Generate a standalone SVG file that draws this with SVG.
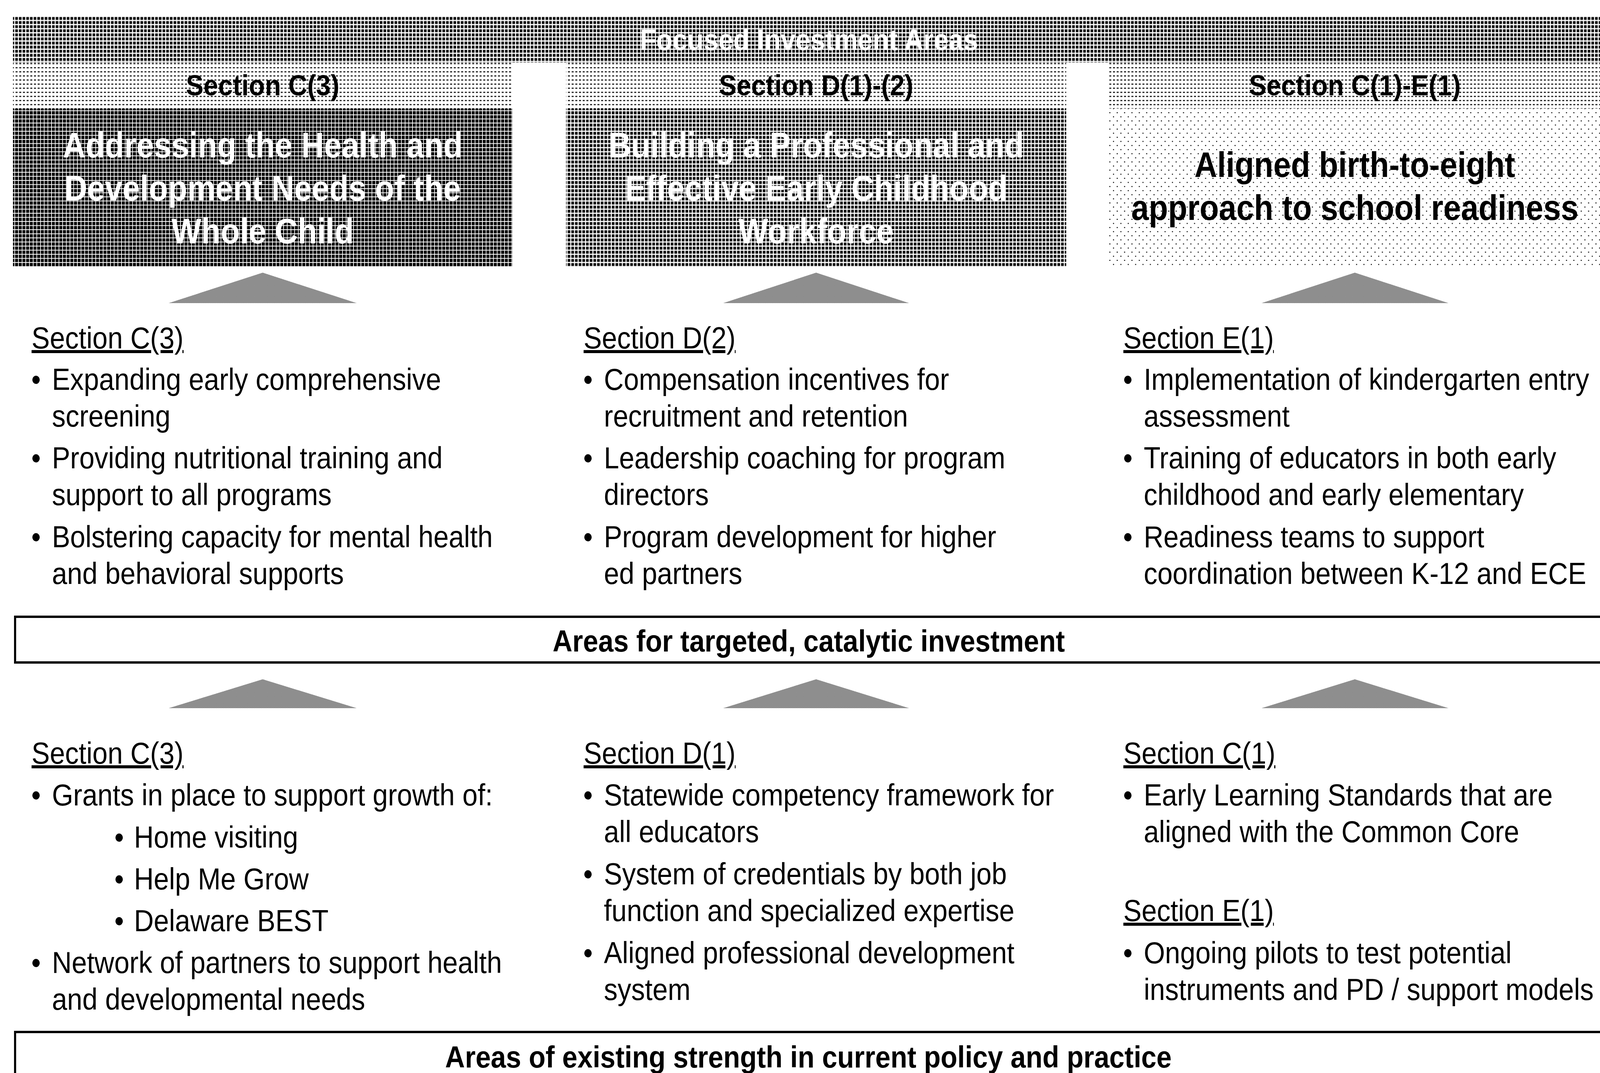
<svg xmlns="http://www.w3.org/2000/svg" width="4562" height="2747" viewBox="0 0 4562 2747" preserveAspectRatio="none">
<style>
svg{width:100vw;height:100vh}
text{font-family:"Liberation Sans",Arial,sans-serif;fill:#000}
.hdr{font-size:75px;font-weight:bold;text-anchor:middle}
.pan{font-size:90px;font-weight:bold;text-anchor:middle}
.wt{fill:#fff}
.bt{font-size:78px}
.sec{font-size:78px;text-decoration:underline}
.box{font-size:78px;font-weight:bold;text-anchor:middle}
.frame{fill:#fff;stroke:#000;stroke-width:6}
.tri{fill:url(#pTri)}
</style>
<defs>
<pattern id="pTop" width="10.5" height="10.5" patternUnits="userSpaceOnUse"><rect width="10.5" height="10.5" fill="#fff"/><rect x="1.5" y="1.5" width="7.4" height="7.4" fill="#000"/></pattern>
<pattern id="pDark" width="10.5" height="10.5" patternUnits="userSpaceOnUse"><rect width="10.5" height="10.5" fill="#fff"/><rect x="1" y="1" width="8.5" height="8.5" fill="#000"/></pattern>
<pattern id="pMid" width="10.5" height="10.5" patternUnits="userSpaceOnUse"><rect width="10.5" height="10.5" fill="#fff"/><rect x="1.5" y="1.5" width="7.5" height="7.5" fill="#000"/></pattern>
<pattern id="pBand" width="10.5" height="10.5" patternUnits="userSpaceOnUse"><rect width="10.5" height="10.5" fill="#fff"/><rect x="2.5" y="4" width="5.5" height="2.8" fill="#000"/></pattern>
<pattern id="pDots" width="21" height="21" patternUnits="userSpaceOnUse"><rect width="21" height="21" fill="#fff"/><circle cx="4" cy="5" r="1.6" fill="#000"/><circle cx="14.5" cy="15.5" r="1.6" fill="#000"/></pattern>
<pattern id="pTri" width="4" height="4" patternUnits="userSpaceOnUse"><rect width="4" height="4" fill="#acacac"/><rect x="0" y="0" width="2" height="2" fill="#707070"/><rect x="2" y="2" width="2" height="2" fill="#707070"/></pattern>
</defs>
<rect width="4562" height="2747" fill="#fff"/>

<g id="top-bar">
<rect x="37" y="42" width="4525" height="118" fill="url(#pTop)"/>
<text class="hdr wt" x="2307" y="128" style="font-size:76px">Focused Investment Areas</text>
</g>

<g id="focus-c3">
<rect x="37" y="160" width="1424" height="118" fill="url(#pBand)"/>
<text class="hdr" x="749" y="244">Section C(3)</text>
<rect x="37" y="278" width="1424" height="404" fill="url(#pDark)"/>
<text class="pan wt" x="749" y="403">Addressing the Health and</text>
<text class="pan wt" x="749" y="513">Development Needs of the</text>
<text class="pan wt" x="749" y="623">Whole Child</text>
</g>

<g id="focus-d12">
<rect x="1614" y="160" width="1426" height="118" fill="url(#pBand)"/>
<text class="hdr" x="2327" y="244">Section D(1)-(2)</text>
<rect x="1614" y="278" width="1426" height="404" fill="url(#pMid)"/>
<text class="pan wt" x="2327" y="403">Building a Professional and</text>
<text class="pan wt" x="2327" y="513">Effective Early Childhood</text>
<text class="pan wt" x="2327" y="623">Workforce</text>
</g>

<g id="focus-c1e1">
<rect x="3161" y="160" width="1401" height="118" fill="url(#pBand)"/>
<text class="hdr" x="3863" y="244">Section C(1)-E(1)</text>
<rect x="3161" y="278" width="1401" height="404" fill="url(#pDots)"/>
<text class="pan" x="3863" y="453">Aligned birth-to-eight</text>
<text class="pan" x="3863" y="563">approach to school readiness</text>
</g>

<g id="connectors">
<polygon class="tri" points="749,698 1017,776 481,776"/>
<polygon class="tri" points="2327,698 2592,776 2062,776"/>
<polygon class="tri" points="3863,698 4130,776 3597,776"/>
<polygon class="tri" points="749,1739 1017,1813 481,1813"/>
<polygon class="tri" points="2327,1739 2592,1813 2062,1813"/>
<polygon class="tri" points="3863,1739 4130,1813 3597,1813"/>
</g>

<g id="targeted-c3">
<text class="sec" x="90" y="892">Section C(3)</text>
<text class="bt" x="89" y="998">•</text><text class="bt" x="148" y="998">Expanding early comprehensive</text>
<text class="bt" x="148" y="1092">screening</text>
<text class="bt" x="89" y="1199">•</text><text class="bt" x="148" y="1199">Providing nutritional training and</text>
<text class="bt" x="148" y="1293">support to all programs</text>
<text class="bt" x="89" y="1401">•</text><text class="bt" x="148" y="1401">Bolstering capacity for mental health</text>
<text class="bt" x="148" y="1495">and behavioral supports</text>
</g>

<g id="targeted-d2">
<text class="sec" x="1664" y="892">Section D(2)</text>
<text class="bt" x="1663" y="998">•</text><text class="bt" x="1722" y="998">Compensation incentives for</text>
<text class="bt" x="1722" y="1092">recruitment and retention</text>
<text class="bt" x="1663" y="1199">•</text><text class="bt" x="1722" y="1199">Leadership coaching for program</text>
<text class="bt" x="1722" y="1293">directors</text>
<text class="bt" x="1663" y="1401">•</text><text class="bt" x="1722" y="1401">Program development for higher</text>
<text class="bt" x="1722" y="1495">ed partners</text>
</g>

<g id="targeted-e1">
<text class="sec" x="3203" y="892">Section E(1)</text>
<text class="bt" x="3202" y="998">•</text><text class="bt" x="3261" y="998">Implementation of kindergarten entry</text>
<text class="bt" x="3261" y="1092">assessment</text>
<text class="bt" x="3202" y="1199">•</text><text class="bt" x="3261" y="1199">Training of educators in both early</text>
<text class="bt" x="3261" y="1293">childhood and early elementary</text>
<text class="bt" x="3202" y="1401">•</text><text class="bt" x="3261" y="1401">Readiness teams to support</text>
<text class="bt" x="3261" y="1495">coordination between K-12 and ECE</text>
</g>

<g id="targeted-box">
<rect class="frame" x="43" y="1579" width="4540" height="117"/>
<text class="box" x="2306" y="1668">Areas for targeted, catalytic investment</text>
</g>

<g id="existing-c3">
<text class="sec" x="90" y="1955">Section C(3)</text>
<text class="bt" x="89" y="2062">•</text><text class="bt" x="148" y="2062">Grants in place to support growth of:</text>
<text class="bt" x="326" y="2170">•</text><text class="bt" x="382" y="2170">Home visiting</text>
<text class="bt" x="326" y="2277">•</text><text class="bt" x="382" y="2277">Help Me Grow</text>
<text class="bt" x="326" y="2384">•</text><text class="bt" x="382" y="2384">Delaware BEST</text>
<text class="bt" x="89" y="2491">•</text><text class="bt" x="148" y="2491">Network of partners to support health</text>
<text class="bt" x="148" y="2585">and developmental needs</text>
</g>

<g id="existing-d1">
<text class="sec" x="1664" y="1955">Section D(1)</text>
<text class="bt" x="1663" y="2062">•</text><text class="bt" x="1722" y="2062">Statewide competency framework for</text>
<text class="bt" x="1722" y="2156">all educators</text>
<text class="bt" x="1663" y="2264">•</text><text class="bt" x="1722" y="2264">System of credentials by both job</text>
<text class="bt" x="1722" y="2358">function and specialized expertise</text>
<text class="bt" x="1663" y="2466">•</text><text class="bt" x="1722" y="2466">Aligned professional development</text>
<text class="bt" x="1722" y="2560">system</text>
</g>

<g id="existing-c1-e1">
<text class="sec" x="3203" y="1955">Section C(1)</text>
<text class="bt" x="3202" y="2062">•</text><text class="bt" x="3261" y="2062">Early Learning Standards that are</text>
<text class="bt" x="3261" y="2156">aligned with the Common Core</text>
<text class="sec" x="3203" y="2358">Section E(1)</text>
<text class="bt" x="3202" y="2466">•</text><text class="bt" x="3261" y="2466">Ongoing pilots to test potential</text>
<text class="bt" x="3261" y="2560">instruments and PD / support models</text>
</g>

<g id="existing-box">
<rect class="frame" x="43" y="2642" width="4540" height="140"/>
<text class="box" x="2305" y="2733">Areas of existing strength in current policy and practice</text>
</g>
</svg>
